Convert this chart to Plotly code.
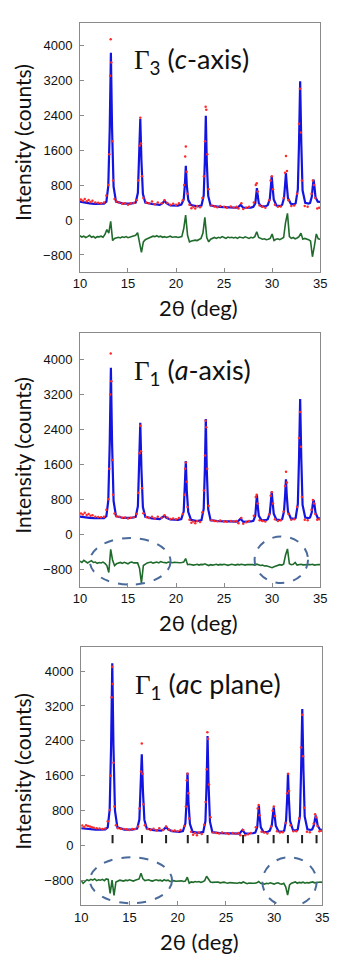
import numpy as np
import plotly.graph_objects as go

# --- datos: eje 2theta compartido ---
CALC_X = [10.0, 10.5, 11.0, 11.5, 12.0, 12.5,
          12.75, 12.95, 13.1, 13.22, 13.34, 13.5, 13.75,
          14.5, 15.3,
          15.8, 16.03, 16.16, 16.28, 16.4, 16.55, 16.8,
          17.5, 18.3, 18.6, 18.8, 19.0, 19.4, 20.2,
          20.55, 20.8, 20.92, 21.02, 21.12, 21.27, 21.55,
          22.2,
          22.65, 22.88, 23.0, 23.1, 23.2, 23.35, 23.6,
          24.5, 25.5, 26.4, 26.72, 27.0, 27.8,
          28.05, 28.25, 28.34, 28.42, 28.5, 28.62, 28.9,
          29.35,
          29.55, 29.76, 29.87, 29.96, 30.05, 30.17, 30.45,
          30.9,
          31.05, 31.24, 31.35, 31.44, 31.53, 31.65, 31.95,
          32.3,
          32.45, 32.68, 32.8, 32.92, 33.04, 33.17, 33.45,
          33.8,
          33.95, 34.13, 34.23, 34.32, 34.41, 34.52, 34.75, 35.0]

CALC_C = [420, 395, 380, 370, 365, 372,
          420, 780, 2100, 3820, 2100, 760, 420,
          375, 375,
          400, 620, 1350, 2310, 1350, 600, 400,
          365, 345, 385, 445, 385, 335, 330,
          350, 470, 800, 1240, 800, 460, 340,
          310,
          330, 560, 1350, 2385, 1350, 550, 330,
          300, 290, 280, 345, 280, 285,
          300, 380, 560, 730, 560, 380, 310,
          315,
          340, 480, 760, 1006, 760, 470, 330,
          320,
          350, 500, 800, 1070, 800, 500, 370,
          360,
          380, 700, 1750, 3170, 1750, 680, 390,
          375,
          390, 530, 760, 920, 760, 520, 420, 415]

CALC_A = [400, 380, 370, 365, 362, 368,
          410, 770, 2100, 3810, 2100, 760, 410,
          370, 370,
          395, 640, 1480, 2550, 1480, 620, 395,
          360, 345, 380, 420, 375, 335, 325,
          345, 520, 1000, 1676, 1000, 510, 330,
          300,
          320, 580, 1480, 2636, 1480, 570, 320,
          295, 290, 285, 355, 280, 290,
          305, 420, 650, 898, 650, 420, 315,
          320,
          340, 480, 740, 974, 740, 470, 330,
          320,
          345, 520, 880, 1257, 880, 520, 360,
          350,
          370, 690, 1720, 3093, 1720, 670, 380,
          365,
          380, 500, 680, 784, 680, 490, 370, 355]

CALC_AC = [400, 385, 372, 366, 365, 372,
           420, 820, 2300, 4177, 2300, 800, 420,
           368, 366,
           390, 600, 1250, 2093, 1250, 590, 390,
           355, 345, 380, 430, 375, 330, 318,
           335, 510, 1000, 1672, 1000, 500, 315,
           295,
           315, 560, 1420, 2510, 1420, 550, 310,
           285, 280, 275, 360, 275, 285,
           300, 420, 660, 920, 660, 420, 310,
           320,
           345, 470, 700, 880, 700, 460, 330,
           320,
           345, 580, 1080, 1658, 1080, 570, 360,
           350,
           370, 690, 1740, 3130, 1740, 670, 375,
           360,
           375, 470, 600, 690, 600, 460, 370, 365]

OBS_X = [10.1, 10.3, 10.5, 10.7, 10.9, 11.1, 11.3, 11.6, 11.9, 12.2, 12.5, 12.75,
         12.95, 13.05, 13.15, 13.2, 13.27, 13.35, 13.45, 13.6,
         13.8, 14.1, 14.4, 14.7, 15.0, 15.3, 15.6,
         15.9, 16.05, 16.2, 16.28, 16.35, 16.45, 16.6,
         16.9, 17.2, 17.5, 17.8, 18.1, 18.5, 18.8, 19.1, 19.4, 19.7, 20.0, 20.3,
         20.7, 20.85, 20.95, 21.02, 21.1, 21.2,
         21.4, 21.6, 21.8, 22.0, 22.2, 22.5,
         22.75, 22.9, 23.02, 23.08, 23.15, 23.25, 23.4,
         23.7, 24.0, 24.3, 24.6, 25.0, 25.3, 25.7, 26.0, 26.3, 26.5, 26.8, 27.0, 27.3, 27.6,
         28.1, 28.3, 28.4, 28.5, 28.7,
         29.0, 29.3,
         29.7, 29.85, 29.97, 30.1, 30.3,
         30.6, 30.9,
         31.2, 31.35, 31.45, 31.55, 31.7,
         32.0, 32.3,
         32.6, 32.8, 32.9, 33.0, 33.1,
         33.4, 33.7,
         34.1, 34.25, 34.35, 34.5, 34.7, 34.9]

OBS_C = [470, 440, 480, 430, 455, 410, 440, 400, 395, 380, 400, 560,
         800, 1500, 3300, 4130, 3600, 1800, 900, 480,
         420, 400, 370, 385, 350, 380, 390,
         450, 900, 1700, 2340, 1750, 1000, 500,
         400, 380, 420, 360, 400, 380, 450, 390, 350, 370, 350, 380,
         450, 800, 1450, 1680, 1100, 600,
         350, 270, 300, 260, 320, 290,
         500, 1000, 1800, 2590, 2520, 1500, 700,
         330, 310, 290, 320, 300, 280, 310, 280, 300, 260, 380, 250, 280, 300,
         400, 800, 840, 650, 330,
         300, 280,
         450, 900, 1000, 700, 350,
         300, 310,
         500, 1080, 1460, 1120, 450,
         320, 330,
         600, 2200, 3000, 2000, 900,
         320, 300,
         600, 900, 800, 500, 260, 280]

OBS_A = [470, 450, 490, 440, 460, 420, 430, 400, 390, 385, 400, 560,
         800, 1500, 3200, 4137, 3500, 1700, 900, 470,
         410, 395, 375, 380, 360, 375, 385,
         460, 950, 1850, 2480, 1900, 1050, 480,
         390, 370, 400, 360, 395, 375, 430, 380, 345, 360, 340, 370,
         460, 900, 1500, 1640, 1200, 620,
         330, 260, 290, 250, 300, 280,
         500, 1000, 1800, 2600, 2450, 1500, 650,
         320, 300, 295, 310, 290, 285, 300, 290, 300, 250, 370, 240, 270, 300,
         420, 850, 900, 700, 320,
         300, 290,
         450, 880, 960, 700, 340,
         300, 320,
         520, 1100, 1431, 1180, 460,
         330, 340,
         620, 2200, 2800, 2000, 850,
         330, 320,
         560, 780, 700, 460, 330, 340]

OBS_AC = [460, 430, 470, 450, 440, 420, 410, 400, 395, 380, 395, 560,
          820, 1600, 3400, 4100, 3700, 1900, 900, 470,
          400, 390, 380, 375, 360, 380, 385,
          440, 850, 1700, 2340, 1650, 950, 470,
          380, 360, 390, 350, 400, 360, 440, 370, 340, 350, 330, 360,
          450, 900, 1500, 1650, 1200, 620,
          320, 250, 290, 240, 300, 270,
          480, 1000, 1750, 2600, 2450, 1400, 650,
          300, 290, 280, 300, 285, 270, 290, 275, 290, 240, 360, 240, 260, 290,
          420, 850, 930, 700, 320,
          300, 280,
          440, 800, 900, 680, 330,
          300, 310,
          520, 1200, 1650, 1250, 470,
          330, 330,
          620, 2250, 3000, 2050, 870,
          320, 310,
          500, 720, 650, 450, 330, 340]

# diferencia obs - calc, cada 0.2 grados de 10 a 35
DIFF_X = np.round(np.linspace(10, 35, 126), 2)

DIFF_C = [-360, -390, -370, -400, -380, -350, -395, -375, -410, -380,
          -385, -370, -395, -330, -220, -300, -30, -470, -420, -400,
          -395, -410, -385, -400, -380, -405, -390, -380, -370, -350,
          -290, -560, -740, -500, -450, -430, -410, -390, -370, -380,
          -360, -385, -370, -395, -380, -400, -385, -370, -395, -390,
          -385, -400, -390, -380, -200, 110, -350, -500, -480, -470,
          -460, -470, -440, -420, -300, 60, -400, -500, -440, -410,
          -400, -420, -395, -410, -380, -400, -420, -390, -405, -395,
          -410, -395, -420, -390, -400, -410, -385, -400, -420, -395,
          -410, -380, -270, -400, -430, -440, -430, -450, -440, -420,
          -320, -470, -440, -430, -450, -420, -400, -60, 150, -380,
          -420, -400, -430, -410, -380, -300, -440, -420, -430, -450,
          -480, -840, -600, -320, -430, -440]

DIFF_A = [-620, -650, -600, -640, -660, -630, -610, -650, -640, -670,
          -650, -660, -640, -670, -720, -880, -350, -600, -720, -680,
          -660, -650, -670, -645, -660, -680, -650, -640, -660, -655,
          -660, -780, -1120, -720, -680, -660, -650, -640, -665, -650,
          -640, -660, -630, -645, -650, -660, -640, -650, -655, -645,
          -650, -660, -655, -650, -640, -560, -700, -690, -700, -710,
          -700, -690, -710, -695, -700, -680, -700, -720, -700, -710,
          -700, -690, -710, -695, -705, -690, -700, -715, -700, -690,
          -700, -710, -695, -705, -690, -700, -710, -695, -705, -700,
          -700, -710, -690, -700, -720, -710, -730, -725, -740, -760,
          -770, -750, -730, -720, -700, -710, -690, -480, -340, -680,
          -700, -690, -650, -710, -700, -690, -705, -700, -690, -700,
          -700, -690, -710, -700, -695, -700]

DIFF_AC = [-800, -860, -820, -780, -800, -770, -790, -760, -800, -780,
           -790, -770, -800, -760, -770, -1090, -790, -1140, -830, -800,
           -790, -800, -810, -790, -800, -780, -795, -810, -790, -780,
           -760, -630, -760, -800, -790, -780, -800, -810, -790, -780,
           -800, -790, -810, -780, -800, -790, -820, -810, -800, -815,
           -810, -820, -805, -820, -810, -720, -860, -830, -840, -820,
           -830, -820, -840, -825, -800, -700, -760, -830, -840, -835,
           -840, -830, -850, -845, -835, -850, -860, -845, -850, -855,
           -850, -860, -845, -855, -830, -860, -870, -855, -850, -860,
           -860, -850, -820, -860, -870, -880, -860, -870, -850, -860,
           -880, -860, -850, -870, -880, -860, -940, -1130, -900, -860,
           -850, -830, -860, -840, -850, -835, -860, -845, -850, -840,
           -830, -850, -840, -845, -830, -840]

BRAGG_POS = [13.25, 16.3, 18.8, 21.05, 23.1, 26.78, 28.35, 29.95, 31.43, 32.9, 34.4]

PANELES = [
    ("", CALC_C, OBS_C, DIFF_C, "<i>c</i>-axis", "3"),
    ("2", CALC_A, OBS_A, DIFF_A, "<i>a</i>-axis", "1"),
    ("3", CALC_AC, OBS_AC, DIFF_AC, "<i>a</i>c plane", "1"),
]

# la pagina deja 8 px de margen en el body: la figura se achica y se corre
OFF = 8
W, H = 354 - OFF, 961 - OFF
# posiciones en pixeles de la ventana: (izq, der, arriba, abajo), rango y
MARCOS = [
    (75.7, 326.0, 22.7, 271.7, [-1182, 4510]),
    (75.7, 326.0, 333.3, 586.7, [-1205, 4601]),
    (77.0, 328.3, 647.3, 905.0, [-1358, 4543]),
]


def px(v):
    return (v - OFF) / W


def py(v):
    return 1 - (v - OFF) / H


fig = go.Figure()

for (sfx, calc, obs, diff, etiqueta, sub), marco in zip(PANELES, MARCOS):
    xa, ya = "x" + sfx, "y" + sfx
    fig.add_trace(go.Scatter(x=DIFF_X, y=diff, mode="lines", xaxis=xa, yaxis=ya,
                             line=dict(color="#1f6b2b", width=1.6)))
    fig.add_trace(go.Scatter(x=CALC_X, y=calc, mode="lines", xaxis=xa, yaxis=ya,
                             line=dict(color="#1414e0", width=2.2)))
    fig.add_trace(go.Scatter(x=OBS_X, y=obs, mode="markers", xaxis=xa, yaxis=ya,
                             marker=dict(color="#ff2a2a", size=2.5)))

# marcas de Bragg en el tercer panel
fig.add_trace(go.Scatter(x=BRAGG_POS, y=[150] * len(BRAGG_POS), mode="markers",
                         xaxis="x3", yaxis="y3",
                         marker=dict(symbol="line-ns", size=6,
                                     line=dict(width=2, color="#222"))))

ejes = dict(showline=True, linecolor="#8a8a8a", linewidth=1, mirror=True,
            ticks="inside", ticklen=4, tickcolor="#8a8a8a",
            showgrid=False, zeroline=False,
            tickfont=dict(family="Liberation Sans, Arial", size=13, color="#111"))

anots = []
for i, ((sfx, calc, obs, diff, etiqueta, sub), (l, r, t, b, yr)) in enumerate(zip(PANELES, MARCOS)):
    n = "" if i == 0 else str(i + 1)
    fig.update_layout(**{
        "xaxis" + n: dict(ejes, domain=[px(l), px(r)], range=[10, 35],
                          tickvals=[10, 15, 20, 25, 30, 35], anchor="y" + n),
        "yaxis" + n: dict(ejes, domain=[py(b), py(t)], range=yr,
                          tickvals=[-800, 0, 800, 1600, 2400, 3200, 4000],
                          anchor="x" + n, ticklabelstandoff=4),
    })
    yc = (t + b) / 2
    anots.append(dict(text="Intensity (counts)", x=px(15), y=py(yc - 5),
                      textangle=-90, font=dict(size=21)))
    anots.append(dict(text="2θ (deg)", x=px((l + r) / 2 - 2),
                      y=py(b + 36), font=dict(size=22)))
    anots.append(dict(
        text='<span style="font-family:Liberation Serif">Γ</span><sub>' + sub + '</sub> (' + etiqueta + ')',
        x=px(l + 54), y=py(t + 38), xanchor="left", font=dict(size=27)))

for a in anots:
    a.update(xref="paper", yref="paper", showarrow=False, yanchor="middle")
    a.setdefault("xanchor", "center")
    a["font"] = dict(family="Lato, Open Sans", color="#111", **a["font"])

fig.update_layout(annotations=anots)

# elipses punteadas sobre la curva diferencia
elipses = [("x2", "y2", 11.03, 19.43, -91, -1159), ("x2", "y2", 28.18, 33.74, -55, -1120),
           ("x3", "y3", 10.9, 19.42, -266, -1319), ("x3", "y3", 28.78, 34.41, -266, -1390)]
for xr, yr_, x0, x1, y0, y1 in elipses:
    fig.add_shape(type="circle", xref=xr, yref=yr_, x0=x0, x1=x1, y0=y1, y1=y0,
                  line=dict(color="#4a6b9b", width=2, dash="dash"))

fig.update_layout(width=W, height=H, margin=dict(l=0, r=0, t=0, b=0),
                  plot_bgcolor="white", paper_bgcolor="white", showlegend=False)

fig.write_html("out.html")
